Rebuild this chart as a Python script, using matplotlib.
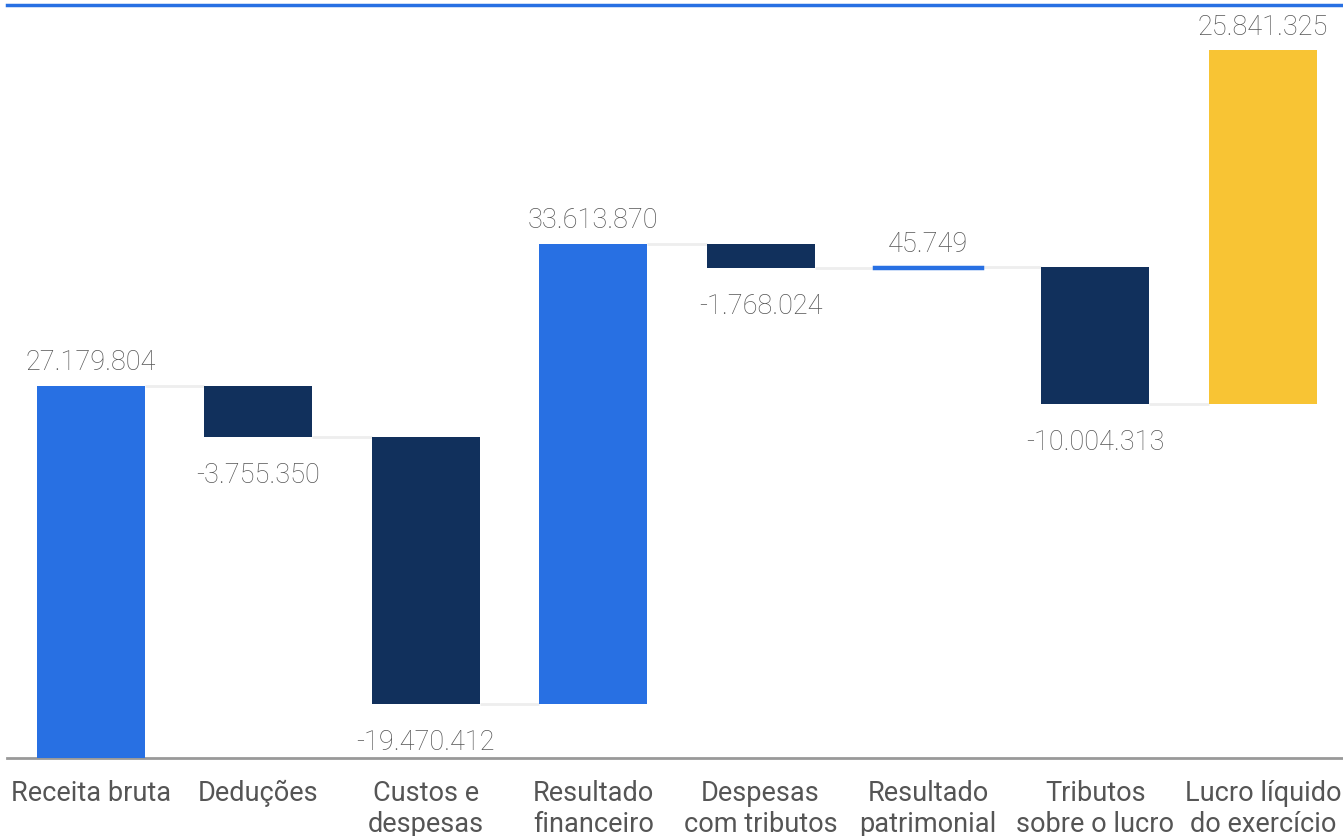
import numpy as np
import matplotlib.pyplot as plt

plt.rcParams['font.family'] = ['Roboto', 'DejaVu Sans']

# data
categories = ['Receita bruta', 'Deduções', 'Custos e\ndespesas', 'Resultado\nfinanceiro',
              'Despesas\ncom tributos', 'Resultado\npatrimonial', 'Tributos\nsobre o lucro',
              'Lucro líquido\ndo exercício']
values = [27179804, -3755350, -19470412, 33613870, -1768024, 45749, -10004313, 25841325]
is_total = [False, False, False, False, False, False, False, True]

blue = '#2870E3'
navy = '#11305C'
yellow = '#F8C434'
txt = '#555555'

def fmt(v):
    return f'{v:,}'.replace(',', '.')

fig = plt.figure(figsize=(13.43, 8.36), dpi=100)
ax = fig.add_axes([7 / 1343, 1 - 758 / 836, 1 - 7 / 1343, 753 / 836])

x = np.arange(len(values))
w = 0.645
running = 0
for i, v in enumerate(values):
    # the total is drawn stacked on top of the running value, like the source chart
    bottom, height = running, v
    if is_total[i]:
        col = yellow
    else:
        col = blue if v >= 0 else navy
    end = running + v
    ax.bar(x[i], height, bottom=bottom, width=w, color=col,
           edgecolor=col, linewidth=2.5 if abs(v) < 1e6 else 0, zorder=3)
    # value label
    if v >= 0:
        ax.annotate(fmt(v), (x[i], bottom + height), xytext=(0, 16.5),
                    textcoords='offset points', ha='center', va='center',
                    fontsize=19.5, color=txt, fontweight='light')
    else:
        ax.annotate(fmt(v), (x[i], bottom + height), xytext=(0, -27.5),
                    textcoords='offset points', ha='center', va='center',
                    fontsize=19.5, color=txt, fontweight='light')
    # connector to next bar
    if i < len(values) - 1:
        ax.plot([x[i] + w / 2, x[i + 1] - w / 2], [end, end], color='#eeeeee',
                lw=2, zorder=2, solid_capstyle='butt')
    if not is_total[i]:
        running = end

ax.set_xlim(-0.502, 7.479)
ax.set_ylim(0, 55e6)
ax.set_xticks(x)
ax.set_xticklabels(categories, fontsize=19.5, color=txt, linespacing=1.2)
ax.tick_params(axis='x', length=0, pad=16)
ax.set_yticks([])
for s in ['left', 'right']:
    ax.spines[s].set_visible(False)
ax.spines['bottom'].set_color('#999999')
ax.spines['bottom'].set_linewidth(2)
ax.spines['top'].set_color(blue)
ax.spines['top'].set_linewidth(2.5)

fig.savefig('out.png', dpi=100)
